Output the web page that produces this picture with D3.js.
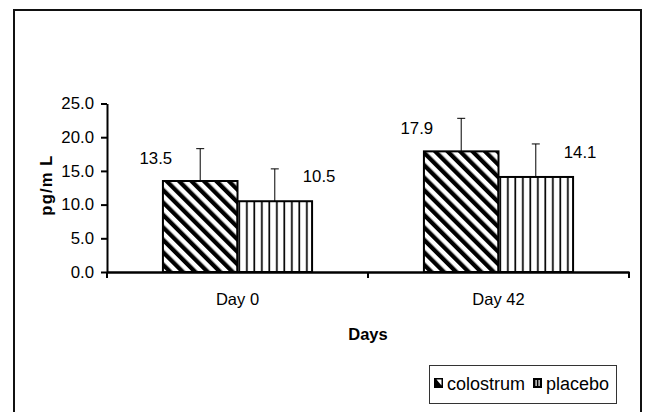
<!DOCTYPE html>
<html>
<head>
<meta charset="utf-8">
<script src="https://cdn.jsdelivr.net/npm/d3@7"></script>
<style>
  body { margin: 0; background: #fff; }
  text { font-family: "Liberation Sans", Arial, sans-serif; fill: #000; }
  .axis path, .axis line { stroke: #000; }
</style>
</head>
<body>
<script>
/* chart data */
var days = ["Day 0", "Day 42"]
var groups = ["colostrum", "placebo"]
var colostrum = [13.5, 17.9]
var placebo = [10.5, 14.1]
var colostrumErr = [4.8, 4.9]
var placeboErr = [4.8, 4.9]
var yTicks = [0, 5, 10, 15, 20, 25]

var W = 646, H = 412

function main()
{
  var svg = d3.select("body")
    .append("svg")
    .attr("width", W)
    .attr("height", H)

  svg.append("rect")
    .attr("width", W).attr("height", H)
    .attr("fill", "#fff")

  addPatterns(svg)

  /* outer frame, bottom edge runs off the picture */
  svg.append("rect")
    .attr("x", 14).attr("y", 10)
    .attr("width", 627).attr("height", 410)
    .attr("fill", "none")
    .attr("stroke", "#111")
    .attr("stroke-width", 2)

  var x0 = d3.scaleBand().domain(days).range([107, 629])
  var x1 = d3.scaleBand().domain(groups)
    .range([0, x0.bandwidth()])
    .paddingOuter(0.75)
  var y = d3.scaleLinear().domain([0, 25]).range([272, 103.5])

  var rows = days.map(function(d, i) {
    return {day: d, vals: [
      {g: "colostrum", v: colostrum[i], e: colostrumErr[i]},
      {g: "placebo", v: placebo[i], e: placeboErr[i]}
    ]}
  })

  /* y axis */
  var yAxis = d3.axisLeft(y)
    .tickValues(yTicks)
    .tickFormat(d3.format(".1f"))
    .tickSize(6)
    .tickSizeOuter(0)
    .tickPadding(7)

  var gy = svg.append("g")
    .attr("class", "axis")
    .attr("transform", "translate(107,0)")
    .call(yAxis)
  gy.selectAll("path, line").attr("stroke-width", 2)
  gy.selectAll("text").style("font-size", "16.8px")

  /* bars */
  var grp = svg.selectAll("g.day")
    .data(rows)
    .enter()
    .append("g")
    .attr("class", "day")
    .attr("transform", function(d) { return "translate(" + x0(d.day) + ",0)" })

  grp.selectAll("rect")
    .data(function(d) { return d.vals })
    .enter()
    .append("rect")
    .attr("x", function(d) { return x1(d.g) })
    .attr("y", function(d) { return y(d.v) })
    .attr("width", x1.bandwidth())
    .attr("height", function(d) { return y(0) - y(d.v) })
    .attr("fill", function(d) { return "url(#pat-" + d.g + ")" })
    .attr("stroke", "#000")
    .attr("stroke-width", 2)

  /* error bars, upper half only */
  var err = grp.selectAll("g.err")
    .data(function(d) { return d.vals })
    .enter()
    .append("g")
    .attr("class", "err")
    .attr("stroke", "#000")
    .attr("stroke-width", 1)
  err.append("line")
    .attr("x1", function(d) { return x1(d.g) + x1.bandwidth() / 2 })
    .attr("x2", function(d) { return x1(d.g) + x1.bandwidth() / 2 })
    .attr("y1", function(d) { return y(d.v) })
    .attr("y2", function(d) { return y(d.v + d.e) })
  err.append("line")
    .attr("x1", function(d) { return x1(d.g) + x1.bandwidth() / 2 - 4 })
    .attr("x2", function(d) { return x1(d.g) + x1.bandwidth() / 2 + 4 })
    .attr("y1", function(d) { return y(d.v + d.e) })
    .attr("y2", function(d) { return y(d.v + d.e) })

  /* value labels */
  grp.selectAll("text.val")
    .data(function(d) { return d.vals })
    .enter()
    .append("text")
    .attr("class", "val")
    .style("font-size", "16.8px")
    .attr("text-anchor", function(d) { return d.g == "colostrum" ? "end" : "start" })
    .attr("x", function(d) {
      var c = x1(d.g) + x1.bandwidth() / 2
      return d.g == "colostrum" ? c - 28 : c + 28
    })
    .attr("y", function(d) { return y(d.v) - (d.g == "colostrum" ? 17 : 19) })
    .text(function(d) { return d.v.toFixed(1) })

  /* x axis: labels centred, ticks on the category edges */
  var gx = svg.append("g")
    .attr("class", "axis")
    .attr("transform", "translate(0,272)")
    .call(d3.axisBottom(x0).tickSize(0).tickPadding(21).tickSizeOuter(0))
  gx.select(".domain").attr("stroke-width", 2.5)
  gx.selectAll("text").style("font-size", "16.5px")

  var edges = days.map(function(d) { return x0(d) }).concat([x0.range()[1]])
  gx.selectAll("line.edge")
    .data(edges)
    .enter()
    .append("line")
    .attr("class", "edge")
    .attr("x1", function(d) { return d }).attr("x2", function(d) { return d })
    .attr("y1", 0).attr("y2", 6)
    .attr("stroke", "#000")
    .attr("stroke-width", 2)

  /* axis titles */
  svg.append("text")
    .attr("x", 368).attr("y", 340)
    .attr("text-anchor", "middle")
    .style("font-size", "16.5px")
    .style("font-weight", "bold")
    .text("Days")

  svg.append("text")
    .attr("transform", "translate(52,185) rotate(-90)")
    .attr("text-anchor", "middle")
    .style("font-size", "16.5px")
    .style("font-weight", "bold")
    .style("letter-spacing", "1.2px")
    .text("pg/m L")

  addLegend(svg)
}

function addPatterns(svg)
{
  var defs = svg.append("defs")

  /* colostrum: bold "\" hatching */
  var p1 = defs.append("pattern")
    .attr("id", "pat-colostrum")
    .attr("patternUnits", "userSpaceOnUse")
    .attr("width", 8.8).attr("height", 8.8)
    .attr("patternTransform", "rotate(-45)")
  p1.append("rect").attr("width", 8.8).attr("height", 8.8).attr("fill", "#fff")
  p1.append("rect").attr("width", 4.3).attr("height", 8.8).attr("fill", "#000")

  /* placebo: thin vertical lines */
  var p2 = defs.append("pattern")
    .attr("id", "pat-placebo")
    .attr("patternUnits", "userSpaceOnUse")
    .attr("width", 7.5).attr("height", 10)
  p2.append("rect").attr("width", 7.5).attr("height", 10).attr("fill", "#fff")
  p2.append("rect").attr("x", 4).attr("width", 1.7).attr("height", 10).attr("fill", "#000")
}

function addLegend(svg)
{
  var lg = svg.append("g")

  lg.append("rect")
    .attr("x", 429.5).attr("y", 365.5)
    .attr("width", 187).attr("height", 38)
    .attr("fill", "#fff")
    .attr("stroke", "#333")
    .attr("stroke-width", 1)

  var items = [
    {g: groups[0], sx: 434, tx: 447},
    {g: groups[1], sx: 533, tx: 546}
  ]
  var sw = 9, sh = 10, sy = 378

  var it = lg.selectAll("g.item")
    .data(items)
    .enter()
    .append("g")
    .attr("class", "item")

  /* small swatches: the hatching reads as solid black at this size */
  it.append("rect")
    .attr("x", function(d) { return d.sx })
    .attr("y", sy)
    .attr("width", sw).attr("height", sh)
    .attr("fill", "#000")

  it.filter(function(d) { return d.g == "colostrum" })
    .append("polygon")
    .attr("points", function(d) {
      return [[d.sx + 2.5, sy + 1.5], [d.sx + sw - 1.5, sy + 1.5], [d.sx + sw - 1.5, sy + sh - 2.5]]
        .map(function(p) { return p.join(",") }).join(" ")
    })
    .attr("fill", "#fff")

  it.filter(function(d) { return d.g == "placebo" })
    .selectAll("rect.gap")
    .data(function(d) { return [d.sx + 2.5, d.sx + 5.5] })
    .enter()
    .append("rect")
    .attr("class", "gap")
    .attr("x", function(d) { return d })
    .attr("y", sy + 2)
    .attr("width", 1.2).attr("height", sh - 4)
    .attr("fill", "#fff")

  it.append("text")
    .attr("x", function(d) { return d.tx })
    .attr("y", 390)
    .style("font-size", "18px")
    .text(function(d) { return d.g })
}

main()
</script>
</body>
</html>
